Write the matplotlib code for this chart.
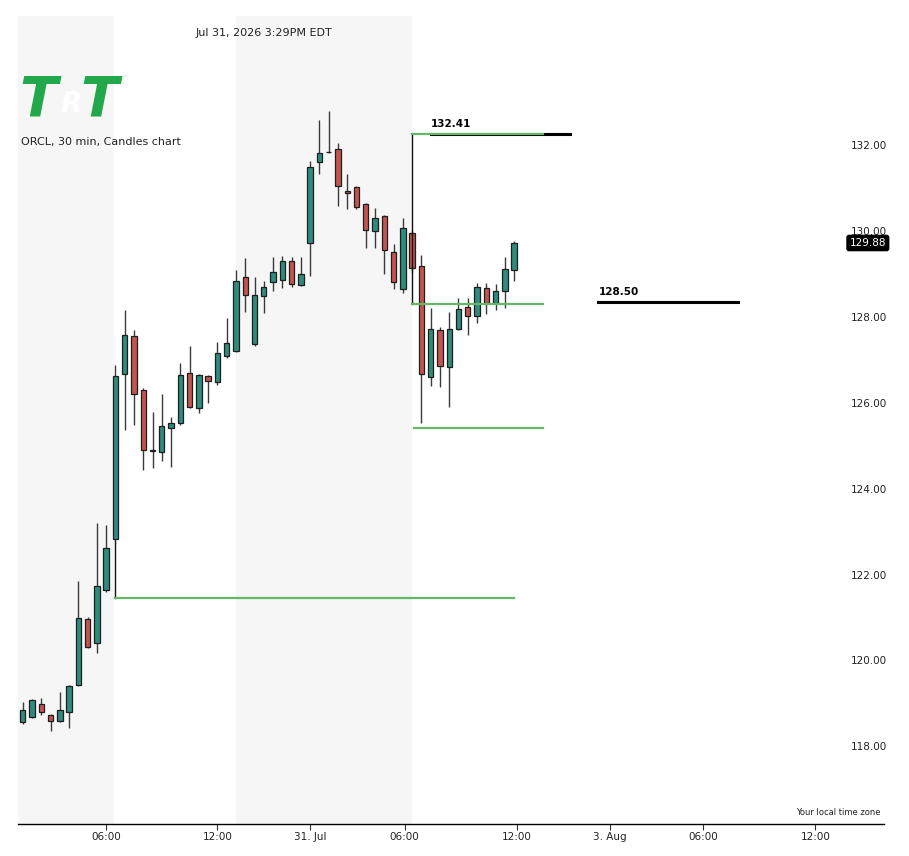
import numpy as np
import matplotlib.pyplot as plt
from matplotlib.transforms import blended_transform_factory

# 30 min candles, ORCL
opens = [118.72, 118.83, 119.13, 118.88, 118.73, 118.96, 119.57, 121.12, 120.56, 121.79,
         122.98, 126.83, 127.71, 126.45, 125.05, 125.00, 125.58, 125.69, 126.85, 126.03,
         126.79, 126.64, 127.25, 127.36, 129.08, 127.52, 128.65, 128.96, 129.02, 129.47,
         128.90, 129.87, 131.77, 131.99, 132.06, 131.09, 131.18, 130.79, 130.16, 130.52,
         129.68, 128.80, 130.11, 129.34, 126.76, 127.85, 126.98, 127.87, 128.38, 128.18,
         128.84, 128.47, 128.76, 129.25]
highs = [119.19, 119.26, 119.27, 118.90, 119.42, 119.57, 122.00, 121.16, 123.36, 123.31,
         127.03, 128.32, 127.85, 126.49, 125.93, 126.35, 125.83, 127.08, 127.48, 126.83,
         126.81, 127.58, 128.14, 129.25, 129.54, 129.08, 129.00, 129.56, 129.58, 129.55,
         129.55, 131.78, 132.75, 132.96, 132.22, 131.49, 131.20, 130.81, 130.70, 130.54,
         129.86, 130.46, 130.15, 129.60, 128.36, 127.93, 128.28, 128.60, 128.60, 128.94,
         128.94, 128.92, 129.55, 129.93]
lows = [118.68, 118.81, 118.88, 118.51, 118.71, 118.58, 119.55, 120.43, 120.33, 121.75,
        122.93, 125.52, 125.64, 124.59, 124.63, 124.81, 124.67, 125.63, 126.03, 125.91,
        126.14, 126.57, 127.21, 127.33, 128.28, 127.49, 128.26, 128.75, 128.84, 128.85,
        128.88, 129.10, 131.49, 131.97, 130.74, 130.67, 130.67, 129.76, 129.76, 129.15,
        128.80, 128.71, 129.20, 125.69, 126.55, 126.53, 126.06, 127.85, 127.73, 128.02,
        128.22, 128.32, 128.36, 129.00]
closes = [119.00, 119.24, 118.94, 118.75, 119.00, 119.55, 121.13, 120.47, 121.89, 122.78,
          126.78, 127.74, 126.36, 125.06, 125.04, 125.62, 125.68, 126.80, 126.05, 126.80,
          126.66, 127.31, 127.54, 129.00, 128.67, 128.67, 128.86, 129.20, 129.47, 128.93,
          129.16, 131.64, 131.97, 131.99, 131.21, 131.04, 130.73, 130.18, 130.46, 129.72,
          128.96, 130.22, 129.29, 126.82, 127.87, 127.01, 127.88, 128.34, 128.19, 128.85,
          128.47, 128.75, 129.27, 129.88]

# x tick positions in candle slots (ordinal axis, extends into the future)
tick_pos = [9, 21, 31, 41.2, 53.3, 63.3, 73.4, 85.5]
tick_labels = ["06:00", "12:00", "31. Jul", "06:00", "12:00", "3. Aug", "06:00", "12:00"]
price_ticks = [118, 120, 122, 124, 126, 128, 130, 132]
last_price = 129.88

# drawn levels
level_labels = [132.41, 128.50]
range_high, range_mid, range_low = 132.41, 128.46, 125.57
base_level = 121.60

GREEN = "#2f8c7c"
RED = "#c4544f"
LINE_GREEN = "#62b866"

fig = plt.figure(figsize=(9.09, 8.56), dpi=100)
ax = fig.add_axes([18 / 909, 32 / 856, 866 / 909, 808 / 856])
ax.set_xlim(-0.51, 92.9)
ax.set_ylim(116.34, 135.17)

# session shading
ax.axvspan(-0.51, 9.85, color="#f6f6f6", zorder=0, lw=0)
ax.axvspan(23.0, 42.0, color="#f6f6f6", zorder=0, lw=0)

# candles
x = np.arange(len(opens))
o = np.array(opens); c = np.array(closes)
cols = [GREEN if cc > oo else (RED if cc < oo else "#222222") for oo, cc in zip(o, c)]
ax.vlines(x, lows, highs, color="#3a3a3a", lw=1.0, zorder=2)
body_h = np.maximum(np.abs(c - o), 0.02)
ax.bar(x, body_h, bottom=np.minimum(o, c), width=0.58, color=cols,
       edgecolor="#1e1e1e", linewidth=0.9, zorder=3)

# range drawing around the first bar of the day
ax.plot([10, 10], [lows[10], base_level], color="#111111", lw=1.0, zorder=2)
ax.plot([10, 53], [base_level, base_level], color=LINE_GREEN, lw=1.6, zorder=4)

# level lines
ax.plot([44.0, 59.0], [level_labels[0], level_labels[0]], color="black", lw=2.2, zorder=4)
ax.plot([62.1, 77.1], [level_labels[1], level_labels[1]], color="black", lw=2.2, zorder=4)
ax.annotate(f"{level_labels[0]:.2f}", (44.0, level_labels[0]), xytext=(0, 4),
            textcoords="offset points", fontsize=7.5, fontweight="bold", ha="left", va="bottom")
ax.annotate(f"{level_labels[1]:.2f}", (62.1, level_labels[1]), xytext=(0, 4),
            textcoords="offset points", fontsize=7.5, fontweight="bold", ha="left", va="bottom")

ax.plot([42, 42], [range_high, range_mid], color="#111111", lw=1.0, zorder=4)
ax.plot([42, 56.1], [range_high, range_high], color=LINE_GREEN, lw=1.6, zorder=5)
ax.plot([42, 56.1], [range_mid, range_mid], color=LINE_GREEN, lw=1.6, zorder=5)
ax.plot([42.2, 56.1], [range_low, range_low], color=LINE_GREEN, lw=1.6, zorder=5)

# axes styling
for s in ["top", "left", "right"]:
    ax.spines[s].set_visible(False)
ax.spines["bottom"].set_color("black")
ax.spines["bottom"].set_linewidth(1.0)
ax.set_yticks([])
ax.set_xticks(tick_pos)
ax.set_xticklabels(tick_labels)
ax.tick_params(axis="x", length=4, width=0.8, color="#333333", labelsize=7.5,
               labelcolor="#222222", pad=2)

# price labels inside the right edge, sitting just above their level
trans = blended_transform_factory(ax.transAxes, ax.transData)
for p in price_ticks:
    ax.annotate(f"{p:.2f}", (1, p), xycoords=trans, xytext=(2, 4), textcoords="offset points",
                ha="right", va="center", fontsize=7.5, color="#222222")
ax.annotate(f"{last_price:.2f}", (1, last_price), xycoords=trans, xytext=(1.5, 0),
            textcoords="offset points", ha="right", va="center", fontsize=7.5, color="white",
            bbox=dict(boxstyle="round,pad=0.25,rounding_size=0.2", fc="black", ec="black"),
            zorder=10)

ax.text(0.9965, 0.009, "Your local time zone", transform=ax.transAxes, ha="right", va="bottom",
        fontsize=6, color="#222222")

# header texts and logo
fig.text(196 / 909, 1 - 33 / 856, "Jul 31, 2026 3:29PM EDT", fontsize=8, va="center",
         ha="left", color="#222222")
fig.text(21 / 909, 1 - 142 / 856, "ORCL, 30 min, Candles chart", fontsize=8, va="center",
         ha="left", color="#222222")
fig.text(19 / 909, 1 - 115 / 856, "T", fontsize=40, fontweight="bold", style="italic",
         color="#22a84a", va="baseline", ha="left")
fig.text(60 / 909, 1 - 112 / 856, "R", fontsize=20, fontweight="bold", style="italic",
         color="white", va="baseline", ha="left")
fig.text(80 / 909, 1 - 115 / 856, "T", fontsize=40, fontweight="bold", style="italic",
         color="#22a84a", va="baseline", ha="left")

fig.savefig("out.png", dpi=100)
